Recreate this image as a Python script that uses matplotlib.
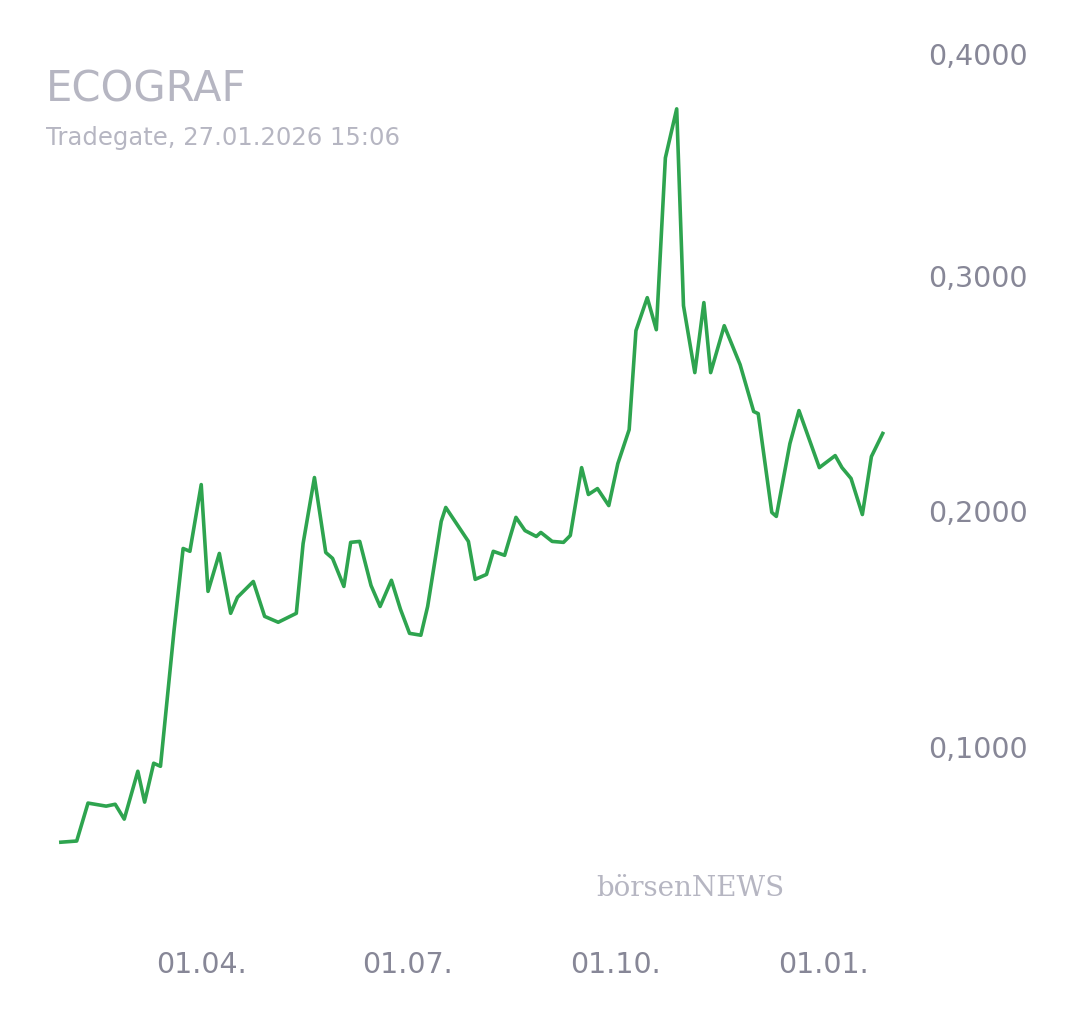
"""ECOGRAF price chart, Tradegate."""

import datetime as dt

import matplotlib

matplotlib.use("Agg")
import matplotlib.dates as mdates
import matplotlib.pyplot as plt
from matplotlib.transforms import ScaledTranslation

START = dt.date(2025, 1, 29)
DAY_OFFSETS = [
    0, 7, 12, 20, 24, 28, 34, 37, 41, 44,
    50, 54, 57, 62, 65, 70, 75, 78, 85, 90,
    96, 104, 107, 112, 117, 120, 125, 128, 132, 137,
    141, 146, 150, 154, 159, 162, 168, 170, 180, 183,
    188, 191, 196, 201, 205, 210, 212, 217, 222, 225,
    230, 233, 237, 242, 246, 251, 254, 259, 263, 267,
    272, 275, 280, 284, 287, 293, 300, 306, 308, 314,
    316, 322, 326, 335, 342, 345, 349, 354, 358, 363,
]
PRICES = [
    0.0597, 0.0602, 0.0763, 0.0750, 0.0758, 0.0695, 0.0898, 0.0767, 0.0932, 0.0919,
    0.1496, 0.1843, 0.1831, 0.2114, 0.1661, 0.1822, 0.1568, 0.1636, 0.1703, 0.1555,
    0.1530, 0.1568, 0.1864, 0.2144, 0.1826, 0.1801, 0.1682, 0.1869, 0.1873, 0.1686,
    0.1597, 0.1708, 0.1585, 0.1483, 0.1475, 0.1597, 0.1958, 0.2017, 0.1873, 0.1712,
    0.1733, 0.1831, 0.1814, 0.1975, 0.1919, 0.1894, 0.1911, 0.1873, 0.1869, 0.1898,
    0.2186, 0.2072, 0.2097, 0.2025, 0.2203, 0.2347, 0.2767, 0.2907, 0.2771, 0.3500,
    0.3708, 0.2873, 0.2589, 0.2886, 0.2589, 0.2788, 0.2623, 0.2424, 0.2415, 0.1996,
    0.1979, 0.2288, 0.2428, 0.2186, 0.2237, 0.2186, 0.2140, 0.1987, 0.2233, 0.2331,
]
Y_TICKS = [0.1, 0.2, 0.3, 0.4]
X_TICKS = [dt.date(2025, 4, 1), dt.date(2025, 7, 1), dt.date(2025, 10, 1), dt.date(2026, 1, 1)]

LABEL_GRAY = "#878797"
TITLE_GRAY = "#b6b6c2"
LINE_GREEN = "#2ea44f"

dates = [START + dt.timedelta(days=d) for d in DAY_OFFSETS]

fig = plt.figure(figsize=(10.8, 10.13), dpi=100)
ax = fig.add_axes([45 / 1080, 1 - 920 / 1013, 840 / 1080, 880 / 1013])
ax.plot(dates, PRICES, color=LINE_GREEN, linewidth=2.6, solid_joinstyle="round")

ax.set_xlim(START - dt.timedelta(days=7.5), START + dt.timedelta(days=364))
ax.set_ylim(0.0267, 0.3996)
for side in ax.spines.values():
    side.set_visible(False)

ax.yaxis.tick_right()
ax.set_yticks(Y_TICKS)
ax.set_yticklabels([f"{v:.4f}".replace(".", ",") for v in Y_TICKS])
ax.tick_params(axis="y", length=0, pad=103, labelsize=20.5, labelcolor=LABEL_GRAY)
for label in ax.get_yticklabels():
    label.set_horizontalalignment("right")
# top label sits a bit lower than its gridline, inside the frame
top_label = ax.get_yticklabels()[-1]
top_label.set_transform(top_label.get_transform() + ScaledTranslation(0, -0.14, fig.dpi_scale_trans))

ax.set_xticks(X_TICKS)
ax.xaxis.set_major_formatter(mdates.DateFormatter("%d.%m."))
ax.tick_params(axis="x", length=0, pad=22, labelsize=20.5, labelcolor=LABEL_GRAY)

fig.text(46 / 1080, 1 - 90 / 1013, "ECOGRAF", fontsize=30, color=TITLE_GRAY, va="center")
fig.text(46 / 1080, 1 - 138 / 1013, "Tradegate, 27.01.2026 15:06", fontsize=17.5,
         color=TITLE_GRAY, va="center")
fig.text(690 / 1080, 1 - 888 / 1013, "börsenNEWS", fontsize=20, color=TITLE_GRAY,
         family="DejaVu Serif", ha="center", va="center")

fig.savefig("out.png", dpi=100)
